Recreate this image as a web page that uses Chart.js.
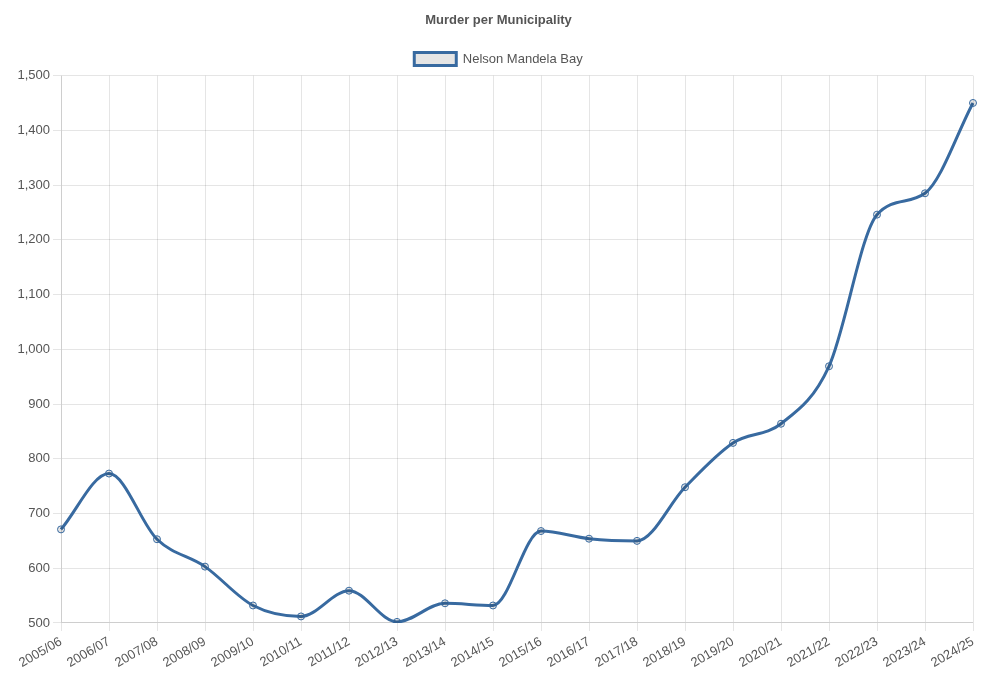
<!DOCTYPE html>
<html>
<head>
<meta charset="utf-8">
<script src="https://cdn.jsdelivr.net/npm/chart.js@4/dist/chart.umd.min.js"></script>
<style>
  html, body { margin: 0; padding: 0; background: #fff; }
  #wrap { width: 1000px; height: 681px; }
</style>
</head>
<body>
<div id="wrap"><canvas id="murderChart"></canvas></div>
<script>
// DATA
const years = [
  "2005/06", "2006/07", "2007/08", "2008/09", "2009/10", "2010/11", "2011/12",
  "2012/13", "2013/14", "2014/15", "2015/16", "2016/17", "2017/18", "2018/19",
  "2019/20", "2020/21", "2021/22", "2022/23", "2023/24", "2024/25"
];
const murders = [
  671, 773, 653, 603, 532, 512, 559, 502, 536, 532,
  668, 654, 650, 748, 829, 864, 969, 1246, 1285, 1450
];
const yMin = 500;
const yMax = 1500;
const yStep = 100;

const lineColor = "#386aa0";

Chart.defaults.font.family = "'Liberation Sans', Helvetica, Arial, sans-serif";
Chart.defaults.font.size = 13;
Chart.defaults.color = "#555";

// CHART
const ctx = document.getElementById("murderChart").getContext("2d");

new Chart(ctx, {
  type: "line",
  data: {
    labels: years,
    datasets: [{
      label: "Nelson Mandela Bay",
      data: murders,
      borderColor: lineColor,
      backgroundColor: "rgba(0,0,0,0.1)",
      borderWidth: 3,
      fill: false,
      cubicInterpolationMode: "monotone",
      pointRadius: 3.5,
      pointBorderWidth: 1,
      pointBorderColor: lineColor,
      pointBackgroundColor: "rgba(0,0,0,0.1)"
    }]
  },
  options: {
    responsive: true,
    maintainAspectRatio: false,
    animation: false,
    layout: { padding: { left: 0, right: 3, top: 3, bottom: 7 } },
    plugins: {
      title: {
        display: true,
        text: "Murder per Municipality",
        font: { size: 13, weight: "bold" },
        padding: { top: 10, bottom: 14 }
      },
      legend: {
        labels: {
          boxWidth: 42,
          boxHeight: 13,
          padding: 10,
          font: { size: 13 }
        }
      },
      tooltip: { enabled: false }
    },
    scales: {
      x: {
        grid: { color: "rgba(0,0,0,0.1)" },
        border: { color: "rgba(0,0,0,0.1)" },
        ticks: { maxRotation: 30, minRotation: 30 },
        // room on the right like the original chart
        afterFit(scale) { scale.paddingRight = 27; }
      },
      y: {
        min: yMin,
        max: yMax,
        grid: { color: "rgba(0,0,0,0.1)" },
        border: { color: "rgba(0,0,0,0.1)" },
        ticks: { stepSize: yStep },
        afterFit(scale) { scale.width = 61; }
      }
    }
  }
});
</script>
</body>
</html>
